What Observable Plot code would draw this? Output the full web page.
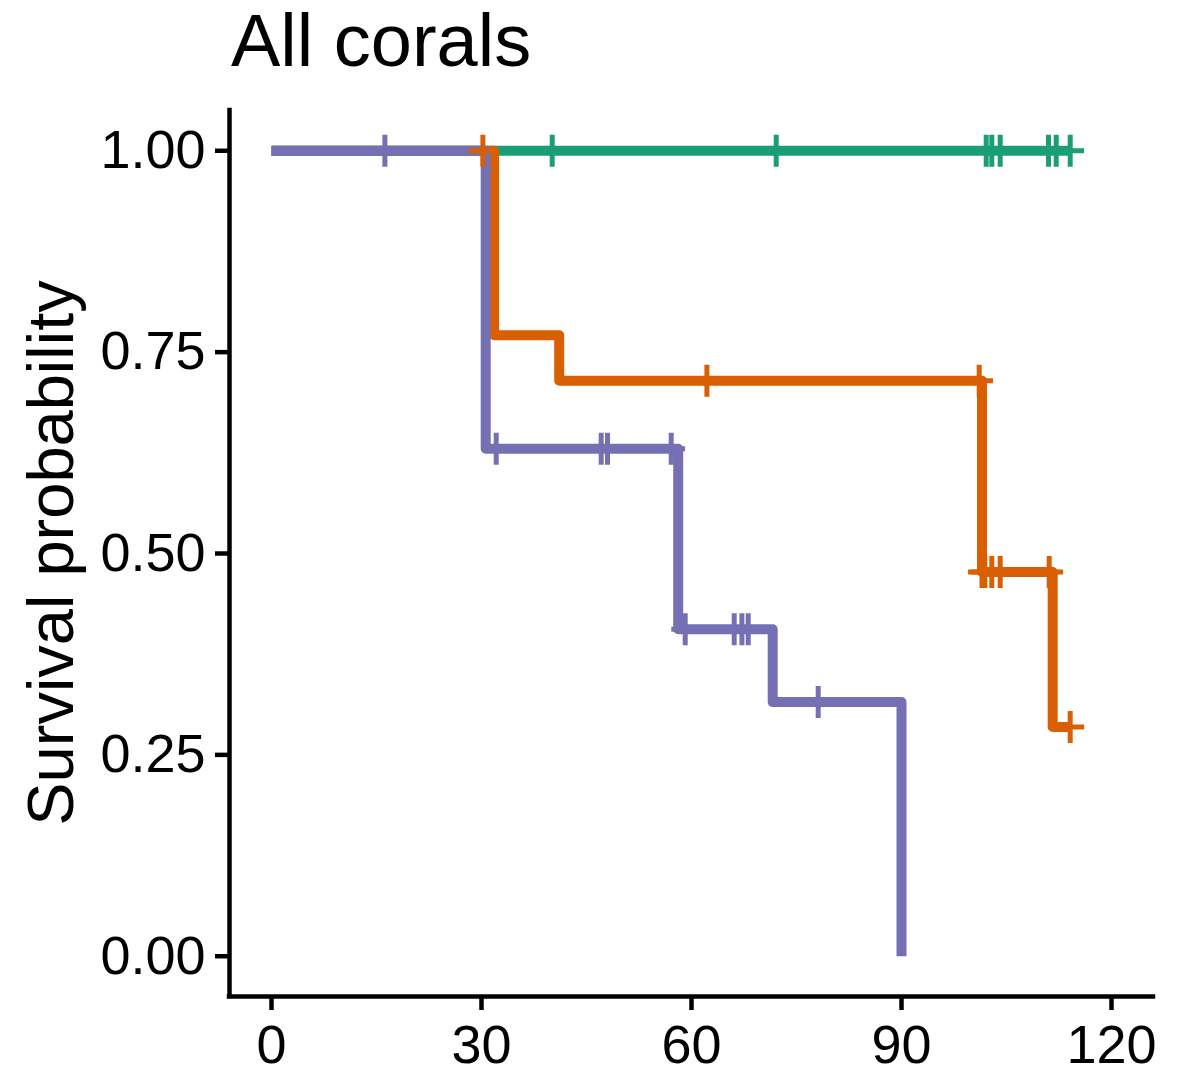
<!DOCTYPE html>
<html><head><meta charset="utf-8">
<script src="https://cdn.jsdelivr.net/npm/d3@7"></script>
<script src="https://cdn.jsdelivr.net/npm/@observablehq/plot@0.6"></script>
<style>
body{margin:0;background:#fff;font-family:"Liberation Sans",Arial,sans-serif;}
#title{height:90px;position:relative;}
#title span{position:absolute;left:231px;top:4px;font-size:74px;line-height:1;color:#000;}
</style></head><body>
<div id="title"><span>All corals</span></div>
<div id="chart"></div>
<script>
// ---- data ----
const groups = ["Group 1", "Group 2", "Group 3"];
const groupColors = ["#1B9E77", "#D95F02", "#7570B3"];

// Kaplan-Meier steps (time, survival)
const times1 = [0, 114.1];
const surv1  = [1, 1];
const censor1 = [40.1, 72.1, 102.1, 102.9, 104.1, 111.0, 112.1, 114.1];

const times2 = [0, 31.8, 41.1, 101.5, 111.6, 114.1];
const surv2  = [1, 0.771, 0.7146, 0.477, 0.2845, 0.2845];
const censor2 = [30.2, 62.2, 101.1, 101.5, 101.9, 102.9, 104.1, 111.1, 114.1];

const times3 = [0, 30.6, 58.1, 71.6, 90.0];
const surv3  = [1, 0.63, 0.406, 0.3155, 0];
const censor3 = [16.2, 32.1, 47.1, 48.0, 57.1, 59.1, 66.1, 67.2, 68.1, 78.1];

const xTicks = [0, 30, 60, 90, 120];
const yTicks = [0, 0.25, 0.5, 0.75, 1];
const xDomain = [-6, 126];
const yDomain = [-0.05, 1.05];
const yLabel = "Survival probability";

// ---- build tables ----
const series = [
  {name: groups[0], times: times1, surv: surv1, censor: censor1},
  {name: groups[1], times: times2, surv: surv2, censor: censor2},
  {name: groups[2], times: times3, surv: surv3, censor: censor3}
];
const stepRows = [];
const censorRows = [];
for (const s of series) {
  s.times.forEach((t, i) => stepRows.push({group: s.name, time: t, surv: s.surv[i]}));
  for (const c of s.censor) {
    let v = s.surv[0];
    s.times.forEach((t, i) => { if (t <= c) v = s.surv[i]; });
    censorRows.push({group: s.name, time: c, surv: v});
  }
}

const plusSymbol = {
  draw(context, size) {
    const r = Math.sqrt(size / Math.PI);
    const h = r * 0.87;
    context.moveTo(-h, 0); context.lineTo(h, 0);
    context.moveTo(0, -r); context.lineTo(0, r);
  }
};

const W = 1188, H = 984, mL = 229, mR = 35, mT = 20, mB = 78;
const chart = Plot.plot({
  width: W, height: H,
  marginLeft: mL, marginRight: mR, marginTop: mT, marginBottom: mB,
  x: {domain: xDomain},
  y: {domain: yDomain},
  color: {domain: groups, range: groupColors},
  style: {fontFamily: "'Liberation Sans', Arial, sans-serif", color: "black", background: "white", overflow: "visible"},
  marks: [
    Plot.line(stepRows, {x: "time", y: "surv", z: "group", stroke: "group", strokeWidth: 10,
      curve: "step-after", strokeLinecap: "butt", strokeLinejoin: "round"}),
    Plot.dot(censorRows, {x: "time", y: "surv", stroke: "group", fill: "none",
      symbol: plusSymbol, r: 16, strokeWidth: 5, strokeLinecap: "butt"}),
    Plot.ruleX([xDomain[0]], {strokeWidth: 4.5, strokeLinecap: "square"}),
    Plot.ruleY([yDomain[0]], {strokeWidth: 4.5, strokeLinecap: "square"}),
    Plot.axisX({ticks: xTicks, tickSize: 14, tickPadding: 14, fontSize: 54, strokeWidth: 4.5, label: null}),
    Plot.axisY({ticks: yTicks, tickFormat: d3.format(".2f"), tickSize: 14, tickPadding: 10,
      fontSize: 54, strokeWidth: 4.5, label: null})
  ]
});
// y-axis title, centred on the plotting frame
d3.select(chart).append("text")
  .attr("transform", `translate(50,${(mT + H - mB) / 2}) rotate(-90)`)
  .attr("text-anchor", "middle")
  .attr("dominant-baseline", "central")
  .attr("font-size", 65)
  .attr("fill", "black")
  .text(yLabel);
document.getElementById("chart").appendChild(chart);
</script>
</body></html>
